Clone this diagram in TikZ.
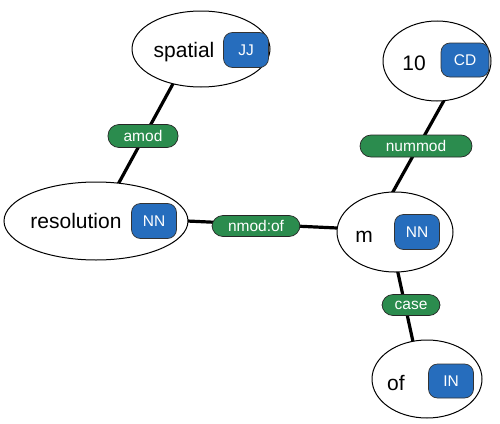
\documentclass[tikz,border=0pt]{standalone}
\usepackage{fontspec}
\setmainfont{Liberation Sans}
\usetikzlibrary{shapes.geometric}
\pgfdeclarelayer{bg}
\pgfsetlayers{bg,main}
\definecolor{tagblue}{RGB}{38,109,189}
\definecolor{relgreen}{RGB}{43,140,78}
\tikzset{
  word/.style={draw=black, line width=1pt, fill=white, ellipse, inner sep=0pt},
  wtext/.style={font=\fontsize{21}{21}\selectfont, inner sep=0pt, anchor=base},
  tagbox/.style={draw=black!80, line width=0.7pt, fill=tagblue, rounded corners=9pt,
    text=white, font=\fontsize{15.5}{15.5}\selectfont, inner sep=0pt,
    minimum width=45pt, minimum height=35pt},
  rel/.style={draw=black!85, line width=0.7pt, fill=relgreen, rounded corners=11pt,
    text=white, font=\fontsize{15.5}{15.5}\selectfont, inner sep=0pt, minimum height=22pt},
  dep/.style={line width=3.2pt, black}
}
\begin{document}
\begin{tikzpicture}[x=1pt,y=-1pt]
\useasboundingbox (0,0) rectangle (500,423);
% ellipses
\node[word, minimum width=138pt, minimum height=76pt] (spatial) at (201,49) {};
\node[word, minimum width=184pt, minimum height=78pt] (res) at (96,221) {};
\node[word, minimum width=116pt, minimum height=80pt] (m) at (395,232) {};
\node[word, minimum width=108pt, minimum height=80pt] (ten) at (437,61) {};
\node[word, minimum width=110pt, minimum height=78pt] (of) at (427,379) {};
% words
\node[wtext] (spatialw) at (184,57) {spatial};
\node[wtext] (resw) at (76,228) {resolution};
\node[wtext] (mw) at (364,242) {m};
\node[wtext] (tenw) at (414,70) {10};
\node[wtext] (ofw) at (396,390) {of};
% tags
\node[tagbox] (jj) at (246,50) {JJ};
\node[tagbox] (nn1) at (154,221) {NN};
\node[tagbox] (nn2) at (417,232) {NN};
\node[tagbox, minimum width=48pt, minimum height=34pt] (cd) at (465,60) {CD};
\node[tagbox, minimum height=34pt] (in) at (451,381) {IN};
% relation labels
\node[rel, minimum width=70pt, minimum height=23pt] (amod) at (143,136) {amod};
\node[rel, minimum width=112pt] (nummod) at (416,146) {nummod};
\node[rel, minimum width=88pt, minimum height=21pt] (nmod) at (256,226) {nmod:of};
\node[rel, minimum width=58pt, minimum height=21pt] (case) at (411,305) {case};
% edge end points (hidden inside the ellipses)
\coordinate (a1) at (192,49);
\coordinate (a2) at (98,221);
\coordinate (b1) at (461,70);
\coordinate (b2) at (380,215);
\coordinate (c1) at (170,220.2);
\coordinate (c2) at (350,228.6);
\coordinate (d1) at (393,250);
\coordinate (d2) at (417,360);
% edges
\begin{pgfonlayer}{bg}
\draw[dep] (a1) -- (a2);
\draw[dep] (b1) -- (b2);
\draw[dep] (c1) -- (c2);
\draw[dep] (d1) -- (d2);
\end{pgfonlayer}
\end{tikzpicture}
\end{document}
